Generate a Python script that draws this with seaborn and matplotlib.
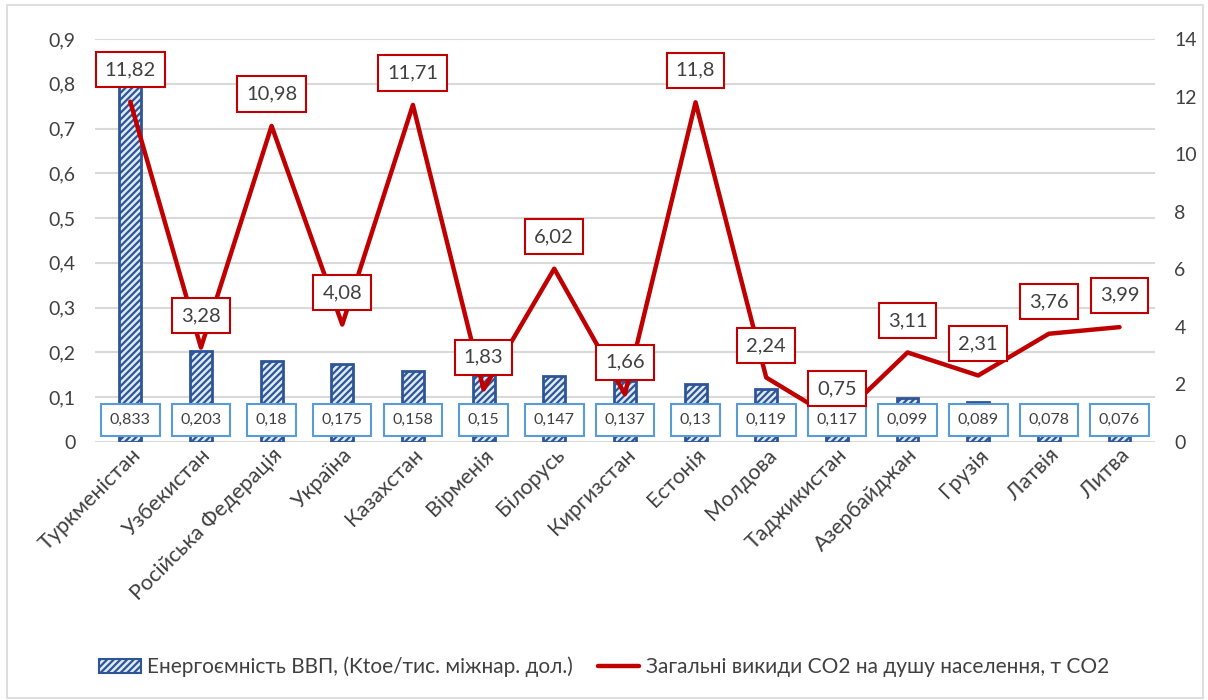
import numpy as np
import pandas as pd
import matplotlib
matplotlib.use("Agg")
import matplotlib.pyplot as plt
import seaborn as sns
from matplotlib.patches import Patch, Rectangle
from matplotlib.lines import Line2D

countries = ['Туркменістан', 'Узбекистан', 'Російська Федерація', 'Україна', 'Казахстан',
             'Вірменія', 'Білорусь', 'Киргизстан', 'Естонія', 'Молдова', 'Таджикистан',
             'Азербайджан', 'Грузія', 'Латвія', 'Литва']
energy = [0.833, 0.203, 0.18, 0.175, 0.158, 0.15, 0.147, 0.137, 0.13, 0.119, 0.117,
          0.099, 0.089, 0.078, 0.076]
co2 = [11.82, 3.28, 10.98, 4.08, 11.71, 1.83, 6.02, 1.66, 11.8, 2.24, 0.75, 3.11,
       2.31, 3.76, 3.99]
left_ticks = [0, 0.1, 0.2, 0.3, 0.4, 0.5, 0.6, 0.7, 0.8, 0.9]
right_ticks = [0, 2, 4, 6, 8, 10, 12, 14]
bar_label = 'Енергоємність ВВП, (Ktoe/тис. міжнар. дол.)'
line_label = 'Загальні викиди CO2 на душу населення, т CO2'

sns.set_theme(style="white")
plt.rcParams['font.family'] = ['Lato', 'DejaVu Sans']
plt.rcParams['hatch.linewidth'] = 1.6

BLUE = '#2F5597'
RED = '#C00000'
TXT = '#404040'

df = pd.DataFrame({'country': countries, 'energy': energy, 'co2': co2,
                   'pos': np.arange(len(countries))})

fig = plt.figure(figsize=(12.08, 7.0), dpi=100)
ax = fig.add_axes([0.0786, 0.3686, 0.8774, 0.5757])

sns.barplot(data=df, x='country', y='energy', ax=ax, width=0.31,
            color='white', edgecolor=BLUE, linewidth=2.0, zorder=2)
for p in ax.patches:
    p.set_hatch('/////')
    p.set_facecolor('#DDEBF7')

ax.set_ylim(0, 0.9)
ax.set_yticks(left_ticks)
ax.set_yticklabels([str(t).replace('.', ',') if t != 0 else '0' for t in left_ticks])
ax.set_xlim(-0.5, len(countries) - 0.5)
ax.yaxis.grid(True, color='#D9D9D9', linewidth=1.5, zorder=0)
ax.set_axisbelow(True)
for s in ax.spines.values():
    s.set_visible(False)
ax.set_xlabel('')
ax.set_ylabel('')
ax.tick_params(axis='y', labelsize=14, colors=TXT, length=0, pad=14)
ax.tick_params(axis='x', labelsize=15.5, colors=TXT, length=0, pad=2)
plt.setp(ax.get_xticklabels(), rotation=45, ha='right', rotation_mode='anchor')

ax2 = ax.twinx()
sns.lineplot(data=df, x='pos', y='co2', ax=ax2, color=RED, linewidth=3.2,
             sort=False, zorder=4)
ax2.set_ylim(0, 14)
ax2.set_yticks(right_ticks)
ax2.set_xlim(-0.5, len(countries) - 0.5)
ax2.set_ylabel('')
ax2.set_xlabel('')
ax2.tick_params(axis='y', labelsize=14, colors=TXT, length=0, pad=14)
for s in ax2.spines.values():
    s.set_visible(False)
ax2.grid(False)

# bar value labels drawn on top axes so they cover the line
for i, v in enumerate(energy):
    ax2.text(i, 0.049, str(v).replace('.', ','), ha='center', va='center',
             transform=ax.transData, fontsize=11.5, color=TXT, zorder=7,
             bbox=dict(boxstyle='square,pad=0.55', fc='white', ec='#5B9BD5', lw=1.5))

for i, v in enumerate(co2):
    ax2.annotate(str(v).replace('.', ','), (i, v), xytext=(0, 23),
                 textcoords='offset points', ha='center', va='center',
                 fontsize=14.5, color=TXT, zorder=8,
                 bbox=dict(boxstyle='square,pad=0.45', fc='white', ec=RED, lw=1.5))

handles = [Patch(facecolor='#DDEBF7', edgecolor=BLUE, hatch='/////', lw=1.5),
           Line2D([0], [0], color=RED, lw=3.2)]
fig.legend(handles, [bar_label, line_label], loc='center', bbox_to_anchor=(0.5, 0.047),
           ncol=2, frameon=False, fontsize=15, labelcolor=TXT,
           handlelength=2.0, handletextpad=0.3, columnspacing=1.2)

fig.add_artist(Rectangle((0.006, 0.003), 0.99, 0.99, transform=fig.transFigure,
                         fill=False, ec='#D9D9D9', lw=1.2))

fig.savefig('out.png', dpi=100)
